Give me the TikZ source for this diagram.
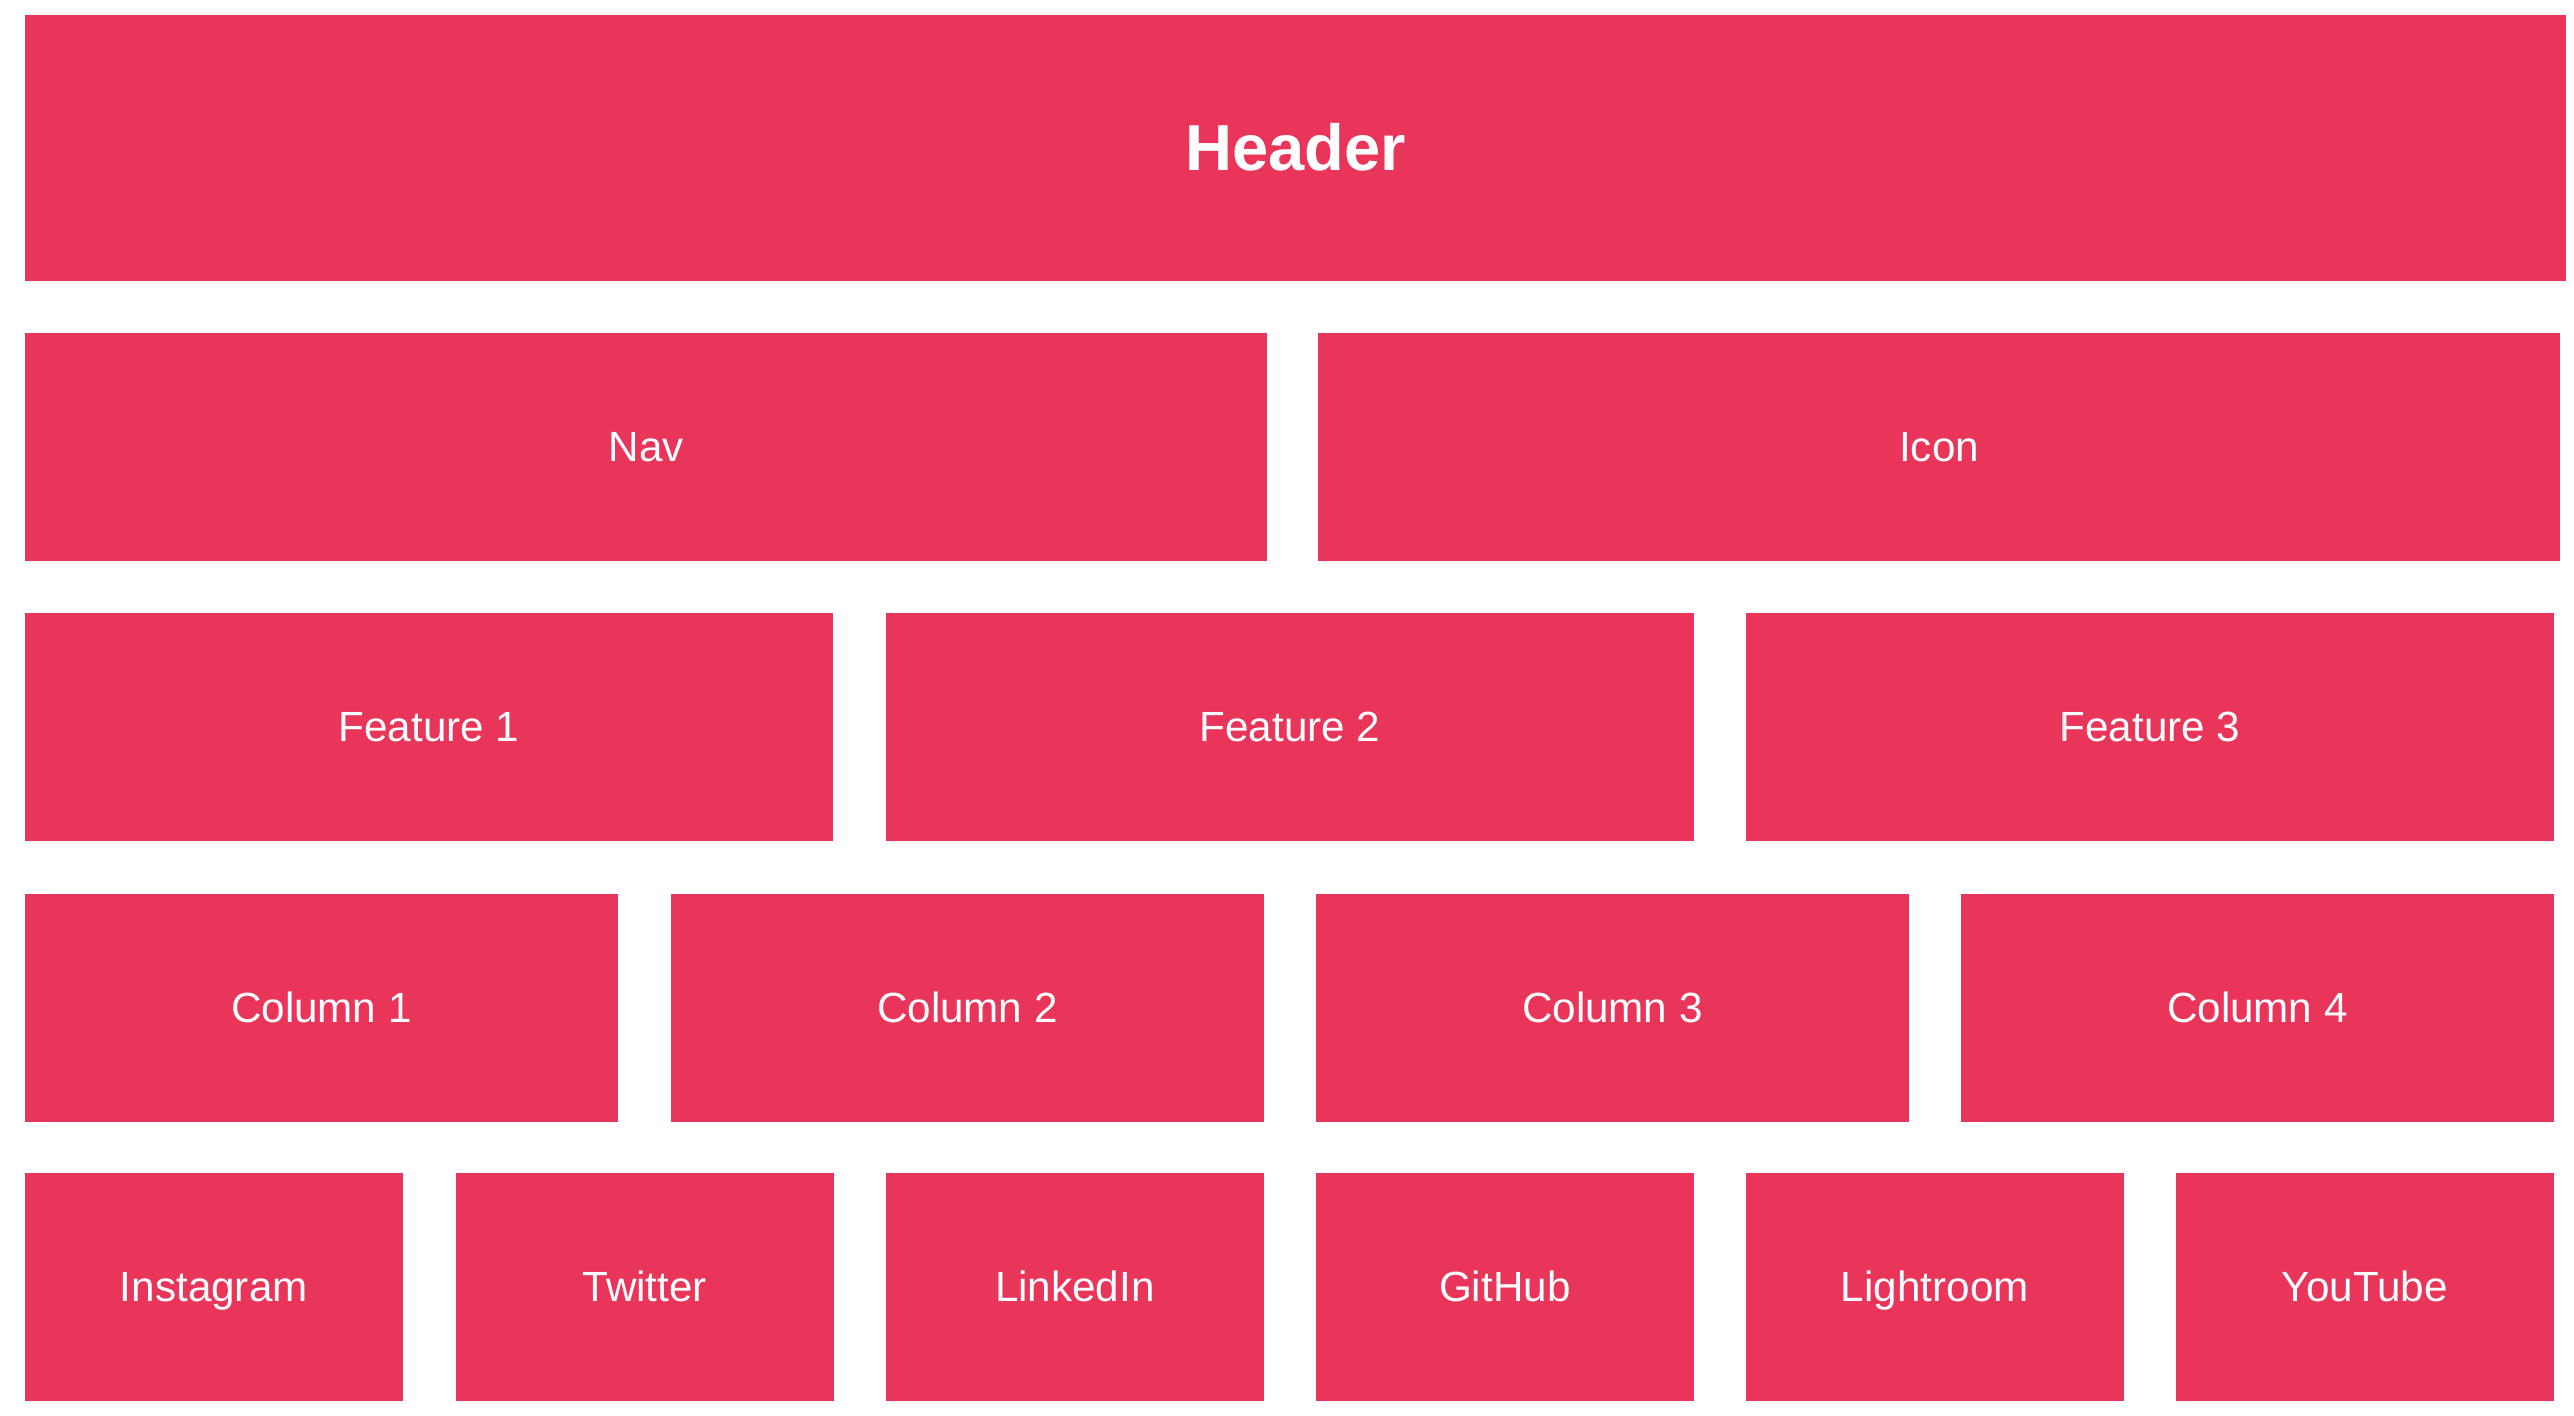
\documentclass[tikz,border=0pt]{standalone}
\usepackage{fontspec}
\setmainfont{Liberation Sans}
\definecolor{boxred}{RGB}{233,53,90}
\begin{document}
\begin{tikzpicture}[x=0.01cm,y=-0.01cm,
  box/.style={fill=boxred, draw=none, text=white, anchor=north west, inner sep=0pt,
    text height=8.3pt, text depth=0pt,
    font=\fontsize{12pt}{14pt}\selectfont},
  hdr/.style={box, text height=13.0pt, font=\fontsize{18.5pt}{22pt}\selectfont\bfseries}]
\useasboundingbox[fill=white] (0,0) rectangle (2574,1416);
\node[hdr, minimum width=25.40cm, minimum height=2.66cm] (header) at (24,14) {Header};
% row 2
\node[box, minimum width=12.42cm, minimum height=2.28cm] (nav) at (24,332) {Nav};
\node[box, minimum width=12.42cm, minimum height=2.28cm] (icon) at (1317,332) {Icon};
% row 3
\node[box, minimum width=8.08cm, minimum height=2.28cm] (f1) at (24,612) {Feature 1};
\node[box, minimum width=8.08cm, minimum height=2.28cm] (f2) at (885,612) {Feature 2};
\node[box, minimum width=8.08cm, minimum height=2.28cm] (f3) at (1745,612) {Feature 3};
% row 4
\node[box, minimum width=5.93cm, minimum height=2.28cm] (c1) at (24,893) {Column 1};
\node[box, minimum width=5.93cm, minimum height=2.28cm] (c2) at (670,893) {Column 2};
\node[box, minimum width=5.93cm, minimum height=2.28cm] (c3) at (1315,893) {Column 3};
\node[box, minimum width=5.93cm, minimum height=2.28cm] (c4) at (1960,893) {Column 4};
% row 5
\node[box, minimum width=3.78cm, minimum height=2.28cm] (s1) at (24,1172) {Instagram};
\node[box, minimum width=3.78cm, minimum height=2.28cm] (s2) at (455,1172) {Twitter};
\node[box, minimum width=3.78cm, minimum height=2.28cm] (s3) at (885,1172) {LinkedIn};
\node[box, minimum width=3.78cm, minimum height=2.28cm] (s4) at (1315,1172) {GitHub};
\node[box, minimum width=3.78cm, minimum height=2.28cm] (s5) at (1745,1172) {Lightroom};
\node[box, minimum width=3.78cm, minimum height=2.28cm] (s6) at (2175,1172) {YouTube};
\end{tikzpicture}
\end{document}
